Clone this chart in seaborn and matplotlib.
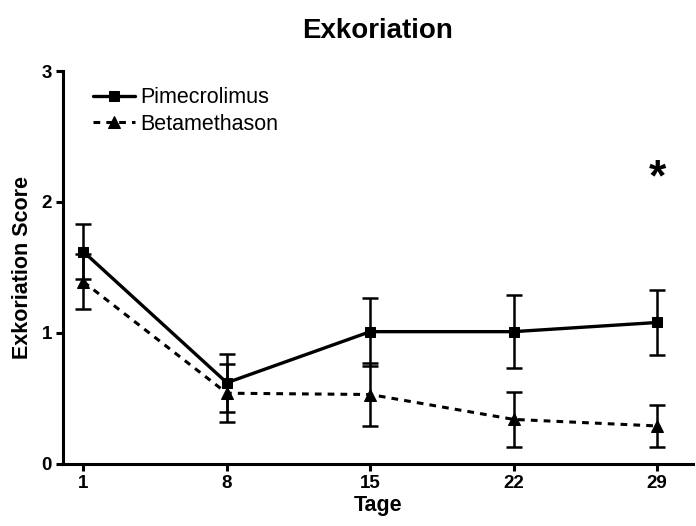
import numpy as np
import pandas as pd
import seaborn as sns
import matplotlib.pyplot as plt

# Data
days = [1, 8, 15, 22, 29]
pime = [1.62, 0.62, 1.01, 1.01, 1.08]
pime_err = [0.21, 0.22, 0.26, 0.28, 0.25]
beta = [1.39, 0.54, 0.53, 0.34, 0.29]
beta_err = [0.21, 0.22, 0.24, 0.21, 0.16]
series_names = ["Pimecrolimus", "Betamethason"]

sns.set_style("ticks")
plt.rcParams['font.family'] = ['Liberation Sans', 'DejaVu Sans']
plt.rcParams['text.color'] = 'black'
plt.rcParams['axes.labelcolor'] = 'black'
plt.rcParams['xtick.color'] = 'black'
plt.rcParams['ytick.color'] = 'black'

fig = plt.figure(figsize=(6.96, 5.26), dpi=100)
ax = fig.add_axes([0.0905, 0.118, 0.905, 0.747])

df = pd.DataFrame({"Tage": days, "pime": pime, "beta": beta})

# Pimecrolimus - solid with squares
sns.lineplot(data=df, x="Tage", y="pime", ax=ax, color="black", linewidth=2.4,
             marker="s", markersize=7, markeredgecolor="black",
             label=series_names[0])
# Betamethason - dashed with triangles
sns.lineplot(data=df, x="Tage", y="beta", ax=ax, color="black", linewidth=2.2,
             marker="^", markersize=8, markeredgecolor="black",
             label=series_names[1])
ax.lines[1].set_linestyle((0, (2.2, 2.0)))

# Error bars (SEM)
ax.errorbar(days, pime, yerr=pime_err, fmt="none", ecolor="black",
            elinewidth=1.8, capsize=5.5, capthick=1.8)
ax.errorbar(days, beta, yerr=beta_err, fmt="none", ecolor="black",
            elinewidth=1.8, capsize=5.5, capthick=1.8)

ax.set_xlim(0, 30.75)
ax.set_ylim(0, 3)
ax.set_xticks(days)
ax.set_yticks([0, 1, 2, 3])
for lbl in ax.get_xticklabels() + ax.get_yticklabels():
    lbl.set_fontweight("bold")
ax.tick_params(axis="both", labelsize=13.5, width=2.2, length=5, color="black", pad=3)

sns.despine(ax=ax)
for s in ["left", "bottom"]:
    ax.spines[s].set_linewidth(2.2)
    ax.spines[s].set_color("black")

ax.set_xlabel("Tage", fontsize=15.5, fontweight="bold", labelpad=2)
ax.set_ylabel("Exkoriation Score", fontsize=15.5, fontweight="bold", labelpad=6)
ax.set_title("Exkoriation", fontsize=20, fontweight="bold", pad=24)

# significance marker
ax.text(29, 2.18, "*", fontsize=32, fontweight="bold", ha="center", va="center")

leg = ax.legend(loc="upper left", bbox_to_anchor=(0.017, 1.008), frameon=False,
                fontsize=15.5, handlelength=1.95, handletextpad=0.25, labelspacing=0.25)

fig.savefig("out.png", dpi=100)
